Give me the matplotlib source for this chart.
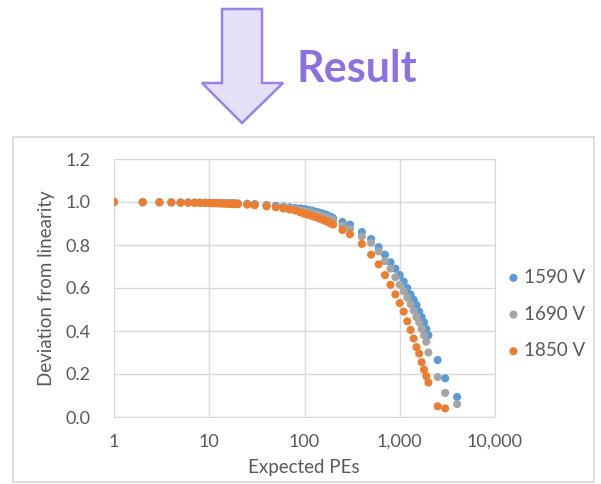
import numpy as np
import matplotlib
matplotlib.use("Agg")
import matplotlib.pyplot as plt
from matplotlib.patches import Polygon, Rectangle
from matplotlib.ticker import FixedLocator, FuncFormatter

plt.rcParams['font.family'] = ['Lato', 'DejaVu Sans']

# expected PEs (same grid for all voltages)
pes = [1, 2, 3, 4, 5, 6, 7, 8, 9, 10, 11, 12, 13, 14, 15, 16, 17, 18, 19, 20,
       25, 30, 40, 50,
       60, 70, 80, 90, 100, 110, 120, 130, 140, 150, 160, 170, 180, 190, 200,
       250, 300,
       400, 500, 600, 700, 800, 900, 1000, 1100, 1200, 1300, 1400, 1500,
       1600, 1700, 1800, 1900, 2000,
       2500, 3000, 4000]

dev_1590 = [1.0, 0.999, 0.999, 0.998, 0.998, 0.998, 0.997, 0.997, 0.997, 0.996,
            0.996, 0.996, 0.995, 0.995, 0.995, 0.994, 0.994, 0.994, 0.993, 0.993,
            0.992, 0.99, 0.986, 0.982,
            0.978, 0.975, 0.972, 0.97, 0.967, 0.963, 0.96, 0.955, 0.952, 0.948,
            0.944, 0.94, 0.935, 0.93, 0.925,
            0.907, 0.895,
            0.86, 0.828, 0.79, 0.755, 0.72, 0.69, 0.66, 0.63, 0.60, 0.57,
            0.545, 0.52, 0.49, 0.465, 0.44, 0.41, 0.38,
            0.265, 0.18, 0.093]

dev_1690 = [1.0, 0.999, 0.999, 0.998, 0.998, 0.997, 0.997, 0.997, 0.996, 0.996,
            0.995, 0.995, 0.995, 0.994, 0.994, 0.993, 0.993, 0.993, 0.992, 0.992,
            0.99, 0.988, 0.983, 0.978,
            0.974, 0.97, 0.966, 0.962, 0.958, 0.954, 0.95, 0.945, 0.941, 0.937,
            0.933, 0.929, 0.924, 0.92, 0.915,
            0.89, 0.875,
            0.84, 0.81, 0.77, 0.725, 0.69, 0.65, 0.615, 0.585, 0.555, 0.525,
            0.495, 0.465, 0.44, 0.41, 0.38, 0.35, 0.30,
            0.186, 0.112, 0.06]

dev_1850 = [1.0, 0.999, 0.998, 0.998, 0.997, 0.997, 0.996, 0.996, 0.995, 0.995,
            0.994, 0.994, 0.993, 0.993, 0.992, 0.992, 0.991, 0.991, 0.99, 0.99,
            0.988, 0.985, 0.98, 0.975,
            0.97, 0.965, 0.96, 0.952, 0.945, 0.94, 0.935, 0.93, 0.925, 0.92,
            0.915, 0.91, 0.905, 0.90, 0.895,
            0.87, 0.85,
            0.805, 0.755, 0.71, 0.66, 0.615, 0.57, 0.53, 0.49, 0.445, 0.405,
            0.365, 0.325, 0.295, 0.255, 0.22, 0.19, 0.16,
            0.05, 0.04]

series = [("1590 V", dev_1590, "#5B9BD5"),
          ("1690 V", dev_1690, "#A5A5A5"),
          ("1850 V", dev_1850, "#ED7D31")]

W, H = 601, 484
fig = plt.figure(figsize=(W / 100, H / 100), dpi=100)


def fx(px):
    return px / W


def fy(py):
    return 1 - py / H


# arrow + heading
arrow = [(222, 9), (262, 9), (262, 83), (283, 83), (242, 123),
         (202, 83), (222, 83)]
fig.patches.append(Polygon([(fx(a), fy(b)) for a, b in arrow], closed=True,
                           transform=fig.transFigure, facecolor="#E5E0F8",
                           edgecolor="#9A82E6", linewidth=1.8))
fig.text(fx(296), fy(82), "Result", fontsize=31, fontweight="bold",
         color="#8C71E0", ha="left", va="baseline")

# chart frame
fig.patches.append(Rectangle((fx(13), fy(482)), fx(594) - fx(13), fy(137) - fy(482),
                             transform=fig.transFigure, facecolor="none",
                             edgecolor="#D9D9D9", linewidth=1.2))

ax = fig.add_axes([fx(114), fy(417), fx(495) - fx(114), fy(159) - fy(417)])
ax.set_xscale("log")
ax.set_xlim(1, 10000)
ax.set_ylim(0, 1.2)

for label, vals, col in series:
    ax.scatter(pes[:len(vals)], vals, s=34, color=col, edgecolors="none",
               label=label, zorder=3)

ax.xaxis.set_major_locator(FixedLocator([1, 10, 100, 1000, 10000]))
ax.xaxis.set_minor_locator(FixedLocator([]))
ax.xaxis.set_major_formatter(FuncFormatter(lambda v, p: f"{v:,.0f}"))
ax.set_yticks([0, 0.2, 0.4, 0.6, 0.8, 1.0, 1.2])
ax.yaxis.set_major_formatter(FuncFormatter(lambda v, p: f"{v:.1f}"))
ax.grid(True, color="#D9D9D9", linewidth=1)
ax.set_axisbelow(True)
for s in ax.spines.values():
    s.set_color("#D9D9D9")
ax.tick_params(length=0, labelsize=13, labelcolor="#595959")
ax.tick_params(axis="x", pad=12)
ax.tick_params(axis="y", pad=17)

fig.text(fx(304), fy(468), "Expected PEs", fontsize=13.5, color="#595959",
         ha="center", va="center")
fig.text(fx(47), fy(288), "Deviation from linearity", fontsize=13.5,
         color="#595959", ha="center", va="center", rotation=90)

leg = ax.legend(loc="center left", bbox_to_anchor=(fx(505), fy(314)),
                bbox_transform=fig.transFigure, frameon=False, fontsize=13.5,
                labelcolor="#595959", handlelength=0.9, handletextpad=0.1,
                labelspacing=1.05, borderpad=0, borderaxespad=0)

fig.savefig("out.png", dpi=100)
